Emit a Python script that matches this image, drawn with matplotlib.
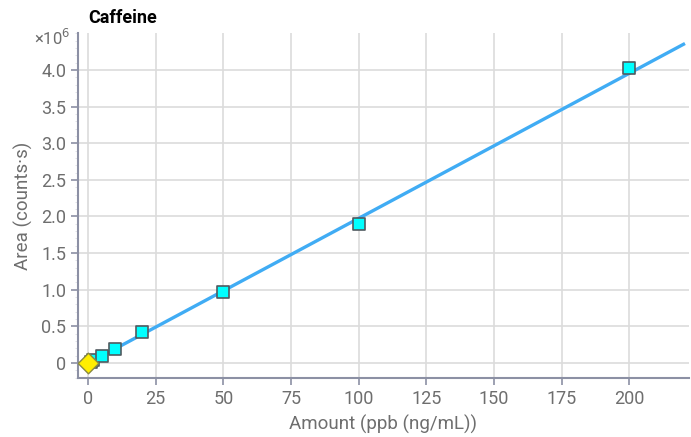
import matplotlib.pyplot as plt
import numpy as np
from matplotlib.ticker import MultipleLocator, FixedLocator, FuncFormatter

plt.rcParams['font.family'] = ['Roboto', 'DejaVu Sans']

# calibration standards (ppb, area in 1e6 counts*s)
amounts = [1, 2, 5, 10, 20, 50, 100, 200]
areas = [0.02, 0.04, 0.10, 0.19, 0.42, 0.97, 1.90, 4.03]

# blank
blank_amount = [0]
blank_area = [-0.005]

# linear fit
slope = 0.0198
intercept = -0.005
fit_x = [0, 220]

y_ticks = [0, 0.5, 1.0, 1.5, 2.0, 2.5, 3.0, 3.5, 4.0]

spine_col = '#8c90a4'
text_col = '#6e6e6e'

fig = plt.figure(figsize=(6.91, 4.37), dpi=100)
ax = fig.add_axes([0.1129, 0.135, 0.8841, 0.7895])

fx = np.array(fit_x)
ax.plot(fx, slope * fx + intercept, color='#40acf4', lw=2.4, zorder=2)
ax.scatter(amounts, areas, marker='s', s=85, facecolor='#00ffff',
           edgecolor='#505a60', linewidth=1.2, zorder=3)
ax.scatter(blank_amount, blank_area, marker='D', s=110, facecolor='#ffee00',
           edgecolor='#8a8a40', linewidth=1.0, zorder=4)

ax.set_xlim(-3.7, 222)
ax.set_ylim(-0.205, 4.505)
ax.xaxis.set_major_locator(MultipleLocator(25))
ax.yaxis.set_major_locator(FixedLocator(y_ticks))
ax.yaxis.set_minor_locator(MultipleLocator(0.1))
ax.yaxis.set_major_formatter(FuncFormatter(lambda v, p: '0' if abs(v) < 1e-9 else f'{v:.1f}'))

ax.grid(True, which='major', color='#dcdcdc', lw=1.2)
ax.set_axisbelow(True)
for s in ['top', 'right']:
    ax.spines[s].set_visible(False)
for s in ['left', 'bottom']:
    ax.spines[s].set_color(spine_col)
    ax.spines[s].set_linewidth(1.5)
ax.tick_params(axis='both', which='major', colors=spine_col, labelcolor=text_col,
               labelsize=13, length=5, width=1.2)
ax.tick_params(axis='y', which='minor', colors='#e2e3e8', length=2, width=0.7)

ax.set_xlabel('Amount (ppb (ng/mL))', fontsize=13.5, color=text_col, labelpad=5)
ax.set_ylabel('Area (counts·s)', fontsize=13.5, color=text_col, labelpad=6)

fig.text(88 / 691, 1 - 18 / 437, 'Caffeine', fontsize=13, fontweight='bold',
         color='black', va='center', ha='left')
fig.text(70 / 691, 1 - 38 / 437, r'×10$^6$', fontsize=12, color=text_col,
         va='center', ha='right')

fig.savefig('out.png', dpi=100)
